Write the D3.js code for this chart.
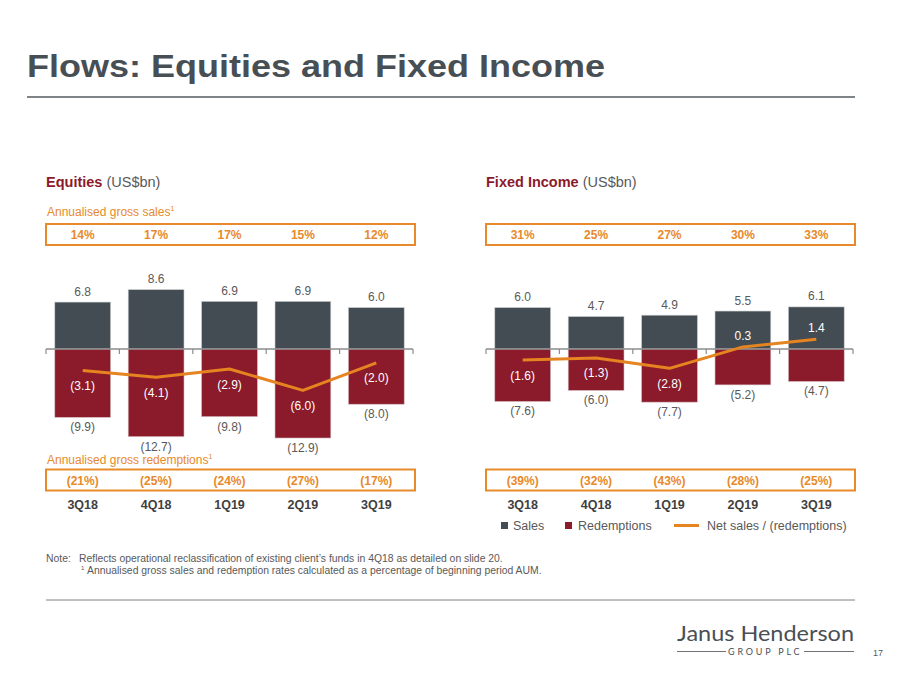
<!DOCTYPE html>
<html><head><meta charset="utf-8">
<script src="https://cdn.jsdelivr.net/npm/d3@7/dist/d3.min.js"></script>
<style>
html,body{margin:0;padding:0;background:#fff;}
svg{display:block;font-family:"Liberation Sans",Arial,sans-serif;}
</style></head>
<body>
<svg id="chart" width="900" height="675"></svg>
<script>
const quarters = ["3Q18","4Q18","1Q19","2Q19","3Q19"];
const eqSales = [6.8, 8.6, 6.9, 6.9, 6.0];
const eqRedemptions = [-9.9, -12.7, -9.8, -12.9, -8.0];
const eqNet = [-3.1, -4.1, -2.9, -6.0, -2.0];
const eqSalesRate = ["14%","17%","17%","15%","12%"];
const eqRedRate = ["(21%)","(25%)","(24%)","(27%)","(17%)"];
const fiSales = [6.0, 4.7, 4.9, 5.5, 6.1];
const fiRedemptions = [-7.6, -6.0, -7.7, -5.2, -4.7];
const fiNet = [-1.6, -1.3, -2.8, 0.3, 1.4];
const fiSalesRate = ["31%","25%","27%","30%","33%"];
const fiRedRate = ["(39%)","(32%)","(43%)","(28%)","(25%)"];
const legendLabels = ["Sales","Redemptions","Net sales / (redemptions)"];

const C = {
  sales:"#434c53", red:"#8b1a2a", orange:"#e58420", box:"#e8892b",
  header:"#8b1a2b", text:"#595959", cat:"#404040", title:"#474f55", axis:"#8c8c8c"
};
const svg = d3.select("#chart");
const fmt = v => v < 0 ? "(" + Math.abs(v).toFixed(1) + ")" : v.toFixed(1);

// Title
svg.append("text").attr("x",27).attr("y",77).attr("font-size",31).attr("font-weight","bold")
  .attr("fill",C.title).attr("textLength",578).attr("lengthAdjust","spacingAndGlyphs")
  .text("Flows: Equities and Fixed Income");
svg.append("line").attr("x1",27).attr("x2",855).attr("y1",97).attr("y2",97)
  .attr("stroke","#7f8488").attr("stroke-width",2);

const y = d3.scaleLinear().domain([-14, 10]).range([349 + 14*6.9, 349 - 10*6.9]);

function panel(opts){
  const {x0, x1, title, sales, red, net, sRate, rRate, showSalesLbl, showRedLbl} = opts;
  const x = d3.scaleBand().domain(quarters).range([x0, x1]).paddingInner(0.24).paddingOuter(0.12);
  const g = svg.append("g");
  // header
  const h = g.append("text").attr("x",x0).attr("y",187).attr("font-size",14.5);
  h.append("tspan").attr("font-weight","bold").attr("fill",C.header).text(title);
  h.append("tspan").attr("fill",C.text).text(" (US$bn)");
  if (showSalesLbl){
    const t = g.append("text").attr("x",x0+1).attr("y",216).attr("font-size",12).attr("fill",C.box);
    t.append("tspan").text("Annualised gross sales");
    t.append("tspan").attr("font-size",7).attr("dy",-5).text("1");
  }
  if (showRedLbl){
    const t = g.append("text").attr("x",x0+1).attr("y",464).attr("font-size",12).attr("fill",C.box);
    t.append("tspan").text("Annualised gross redemptions");
    t.append("tspan").attr("font-size",7).attr("dy",-5).text("1");
  }
  // boxes
  [[224, sRate],[469.5, rRate]].forEach(([by, arr])=>{
    g.append("rect").attr("x",x0).attr("y",by).attr("width",x1-x0+2).attr("height",21)
      .attr("fill","none").attr("stroke",C.box).attr("stroke-width",2);
    g.selectAll(null).data(arr).enter().append("text")
      .attr("x",(d,i)=>x(quarters[i])+x.bandwidth()/2).attr("y",by+15)
      .attr("text-anchor","middle").attr("font-size",12).attr("font-weight","bold")
      .attr("fill",C.box).text(d=>d);
  });
  // bars
  g.selectAll(null).data(sales).enter().append("rect")
    .attr("x",(d,i)=>x(quarters[i])).attr("width",x.bandwidth())
    .attr("y",d=>y(d)).attr("height",d=>y(0)-y(d))
    .attr("fill",C.sales).attr("stroke","#c9ccce").attr("stroke-width",0.6);
  g.selectAll(null).data(red).enter().append("rect")
    .attr("x",(d,i)=>x(quarters[i])).attr("width",x.bandwidth())
    .attr("y",y(0)).attr("height",d=>y(d)-y(0))
    .attr("fill",C.red).attr("stroke","#d3b8bc").attr("stroke-width",0.6);
  // axis
  g.append("line").attr("x1",x0).attr("x2",x1).attr("y1",y(0)).attr("y2",y(0))
    .attr("stroke",C.axis).attr("stroke-width",1.5);
  d3.range(quarters.length+1).forEach(i=>{
    const tx = x0 + i*x.step();
    g.append("line").attr("x1",tx).attr("x2",tx).attr("y1",y(0)).attr("y2",y(0)+5)
      .attr("stroke",C.axis).attr("stroke-width",1.2);
  });
  // labels
  g.selectAll(null).data(sales).enter().append("text")
    .attr("x",(d,i)=>x(quarters[i])+x.bandwidth()/2).attr("y",d=>y(d)-6.5)
    .attr("text-anchor","middle").attr("font-size",12).attr("fill",C.text).text(fmt);
  g.selectAll(null).data(red).enter().append("text")
    .attr("x",(d,i)=>x(quarters[i])+x.bandwidth()/2).attr("y",d=>y(d)+14)
    .attr("text-anchor","middle").attr("font-size",12).attr("fill",C.text).text(fmt);
  // net line
  const line = d3.line().x((d,i)=>x(quarters[i])+x.bandwidth()/2).y(d=>y(d));
  g.append("path").datum(net).attr("d",line).attr("fill","none")
    .attr("stroke",C.orange).attr("stroke-width",3).attr("stroke-linejoin","round");
  g.selectAll(null).data(net).enter().append("text")
    .attr("x",(d,i)=>x(quarters[i])+x.bandwidth()/2).attr("y",d=>d<0 ? y(d)+19.5 : y(d)-7)
    .attr("text-anchor","middle").attr("font-size",12).attr("fill","#ffffff").text(fmt);
  // categories
  g.selectAll(null).data(quarters).enter().append("text")
    .attr("x",d=>x(d)+x.bandwidth()/2).attr("y",509)
    .attr("text-anchor","middle").attr("font-size",12.5).attr("font-weight","bold")
    .attr("fill",C.cat).text(d=>d);
}

panel({x0:46, x1:413, title:"Equities", sales:eqSales, red:eqRedemptions, net:eqNet,
  sRate:eqSalesRate, rRate:eqRedRate, showSalesLbl:true, showRedLbl:true});
panel({x0:486, x1:853, title:"Fixed Income", sales:fiSales, red:fiRedemptions, net:fiNet,
  sRate:fiSalesRate, rRate:fiRedRate, showSalesLbl:false, showRedLbl:false});

// legend
const lg = svg.append("g").attr("font-size",12.5).attr("fill",C.text);
lg.append("rect").attr("x",501).attr("y",522).attr("width",7).attr("height",7).attr("fill",C.sales);
lg.append("text").attr("x",513).attr("y",530).text(legendLabels[0]);
lg.append("rect").attr("x",565).attr("y",522).attr("width",7).attr("height",7).attr("fill",C.red);
lg.append("text").attr("x",578).attr("y",530).text(legendLabels[1]);
lg.append("line").attr("x1",674).attr("x2",699).attr("y1",525.5).attr("y2",525.5)
  .attr("stroke",C.orange).attr("stroke-width",3);
lg.append("text").attr("x",707).attr("y",530).text(legendLabels[2]);

// notes
const nt = svg.append("g").attr("font-size",10.4).attr("fill",C.text);
nt.append("text").attr("x",46).attr("y",562).text("Note:");
nt.append("text").attr("x",79).attr("y",562).text("Reflects operational reclassification of existing client’s funds in 4Q18 as detailed on slide 20.");
nt.append("text").attr("x",81).attr("y",570).attr("font-size",6).text("1");
nt.append("text").attr("x",87).attr("y",573.5).text("Annualised gross sales and redemption rates calculated as a percentage of beginning period AUM.");
svg.append("line").attr("x1",46).attr("x2",855).attr("y1",600).attr("y2",600)
  .attr("stroke","#808080").attr("stroke-width",1);

// logo
svg.append("text").attr("x",677).attr("y",641).attr("font-family","Lato, 'Open Sans', sans-serif")
  .attr("font-size",21).attr("fill","#4a4f55").attr("textLength",177).attr("lengthAdjust","spacingAndGlyphs")
  .text("Janus Henderson");
svg.append("text").attr("x",728).attr("y",655).
  attr("font-family","Lato, 'Open Sans', sans-serif").attr("font-size",9).attr("letter-spacing",2.4)
  .attr("fill","#4a4f55").attr("textLength",74).attr("lengthAdjust","spacing").text("GROUP PLC");
svg.append("line").attr("x1",677).attr("x2",726).attr("y1",651.5).attr("y2",651.5).attr("stroke","#4a4f55").attr("stroke-width",0.8);
svg.append("line").attr("x1",804).attr("x2",854).attr("y1",651.5).attr("y2",651.5).attr("stroke","#4a4f55").attr("stroke-width",0.8);
svg.append("text").attr("x",873).attr("y",656).attr("font-size",9).attr("fill",C.text).text("17");
</script>
</body></html>
